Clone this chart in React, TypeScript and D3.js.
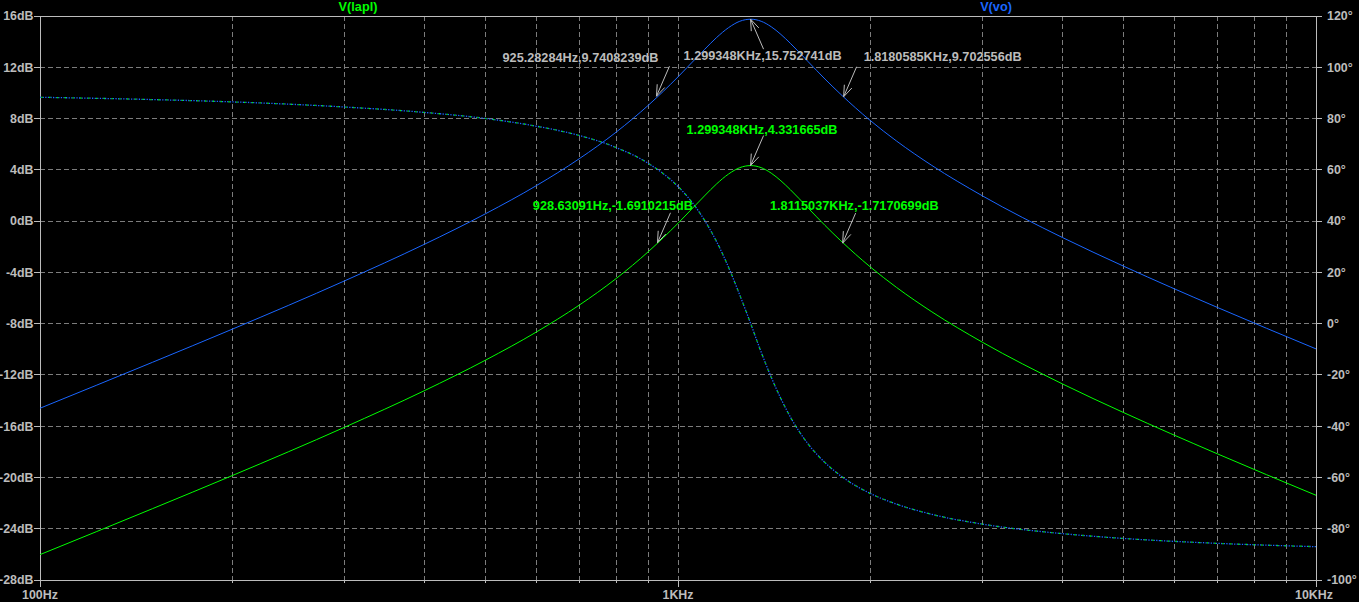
import React from "react";
import * as d3 from "d3";

// ---- data ----
const freqs = [100, 150, 200, 300, 400, 500, 600, 700, 800, 900, 1000, 1050, 1100, 1150, 1200, 1250, 1300, 1350, 1400, 1450, 1500, 1600, 1700, 1800, 2000, 2200, 2500, 3000, 4000, 5000, 7000, 10000];
const laplDb = [-26.02, -22.44, -19.86, -16.09, -13.24, -10.83, -8.65, -6.56, -4.48, -2.35, -0.17, 0.92, 1.96, 2.91, 3.67, 4.17, 4.33, 4.17, 3.74, 3.14, 2.45, 1.01, -0.34, -1.54, -3.56, -5.17, -7.08, -9.45, -12.69, -14.95, -18.15, -21.39];
const voDb = [-14.6, -11.02, -8.44, -4.67, -1.82, 0.59, 2.77, 4.86, 6.94, 9.07, 11.25, 12.34, 13.38, 14.33, 15.09, 15.59, 15.75, 15.59, 15.16, 14.56, 13.87, 12.43, 11.08, 9.88, 7.86, 6.25, 4.34, 1.97, -1.27, -3.53, -6.73, -9.97];
const phaseDeg = [88.3, 87.4, 86.5, 84.5, 82.4, 80.0, 77.0, 73.4, 68.7, 62.4, 53.5, 47.6, 40.4, 31.9, 22.0, 11.1, 0, -11.1, -20.9, -29.3, -36.4, -47.0, -54.2, -59.4, -66.2, -70.4, -74.4, -78.2, -81.9, -83.8, -85.7, -87.0];

const dbTicks = [16, 12, 8, 4, 0, -4, -8, -12, -16, -20, -24, -28];
const degTicks = [120, 100, 80, 60, 40, 20, 0, -20, -40, -60, -80, -100];
const freqMajor = [100, 1000, 10000];
const freqMajorLabels = ["100Hz", "1KHz", "10KHz"];
const freqMinor = [200, 300, 400, 500, 600, 700, 800, 900, 2000, 3000, 4000, 5000, 6000, 7000, 8000, 9000];

const traceNames = ["V(lapl)", "V(vo)"];

// cursor annotations: frequency, value, label, which trace
const annFreq = [925.28284, 1299.348, 1818.0585, 1299.348, 928.63091, 1811.5037];
const annValue = [9.7408239, 15.752741, 9.702556, 4.331665, -1.6910215, -1.7170699];
const annLabel = [
  "925.28284Hz,9.7408239dB",
  "1.299348KHz,15.752741dB",
  "1.8180585KHz,9.702556dB",
  "1.299348KHz,4.331665dB",
  "928.63091Hz,-1.6910215dB",
  "1.8115037KHz,-1.7170699dB",
];
const annTrace = ["vo", "vo", "vo", "lapl", "lapl", "lapl"];

// ---- layout ----
const W = 1359;
const H = 602;
const L = 40, R = 1316, T = 16, B = 580;
const GREEN = "#00ff00";
const BLUE = "#1a66ff";
const GRAY = "#bcbcbc";
const GRID = "#7c7c7c";
const FONT = "'Liberation Sans', Arial, sans-serif";

// per-annotation layout (text anchor point relative to the arrow tip, anchor, tail direction)
const annLayout = [
  { dx: 2, dy: -39, anchor: "end", up: false },
  { dx: -67, dy: 36.5, anchor: "start", up: true },
  { dx: 20, dy: -40, anchor: "start", up: false },
  { dx: -64, dy: -36.3, anchor: "start", up: false },
  { dx: 35.5, dy: -37, anchor: "end", up: false },
  { dx: -72.6, dy: -37.4, anchor: "start", up: false },
];

export default function App() {
  const x = d3.scaleLog().domain([100, 10000]).range([L, R]);
  const yDb = d3.scaleLinear().domain([-28, 16]).range([B, T]);
  const yPh = d3.scaleLinear().domain([-100, 120]).range([B, T]);

  const lineDb = d3
    .line<number>()
    .x((_, i) => x(freqs[i]))
    .y((d) => yDb(d))
    .curve(d3.curveMonotoneX);
  const linePh = d3
    .line<number>()
    .x((_, i) => x(freqs[i]))
    .y((d) => yPh(d))
    .curve(d3.curveMonotoneX);

  const textStyle = { fontFamily: FONT, fontWeight: 700, fontSize: 12.7 } as const;
  const tickStyle = { fontFamily: FONT, fontWeight: 700, fontSize: 12.4 } as const;

  return (
    <svg
      width={W}
      height={H}
      style={{ position: "fixed", left: 0, top: 0, background: "#000", display: "block" }}
    >
      <rect x={0} y={0} width={W} height={H} fill="#000" />
      {/* grid */}
      {dbTicks.slice(1, -1).map((t) => (
        <line key={"hg" + t} x1={L} x2={R} y1={yDb(t)} y2={yDb(t)} stroke={GRID} strokeDasharray="5 3" shapeRendering="crispEdges" />
      ))}
      {freqMinor.concat([1000]).map((f) => (
        <line key={"vg" + f} x1={x(f)} x2={x(f)} y1={T} y2={B} stroke={GRID} strokeDasharray="5 3" shapeRendering="crispEdges" />
      ))}
      {/* frame */}
      <rect x={L} y={T} width={R - L} height={B - T} fill="none" stroke={GRAY} shapeRendering="crispEdges" />
      {/* left ticks + labels */}
      {dbTicks.map((t) => (
        <g key={"ly" + t}>
          <line x1={L - 6} x2={L} y1={yDb(t)} y2={yDb(t)} stroke={GRAY} shapeRendering="crispEdges" />
          <text x={L - 6.5} y={yDb(t)} dy="0.35em" textAnchor="end" fill={GRAY} style={tickStyle}>
            {t + "dB"}
          </text>
        </g>
      ))}
      {/* right ticks + labels */}
      {degTicks.map((t) => (
        <g key={"ry" + t}>
          <line x1={R} x2={R + 6} y1={yPh(t)} y2={yPh(t)} stroke={GRAY} shapeRendering="crispEdges" />
          <text x={R + 11} y={yPh(t)} dy="0.35em" textAnchor="start" fill={GRAY} style={tickStyle}>
            {t + "°"}
          </text>
        </g>
      ))}
      {/* bottom ticks */}
      {freqMinor.map((f) => (
        <line key={"bt" + f} x1={x(f)} x2={x(f)} y1={B} y2={B + 3} stroke={GRAY} shapeRendering="crispEdges" />
      ))}
      {freqMajor.map((f, i) => (
        <g key={"bm" + f}>
          <line x1={x(f)} x2={x(f)} y1={B} y2={B + 7} stroke={GRAY} shapeRendering="crispEdges" />
          <text x={i === 2 ? x(f) - 2 : x(f)} y={595} dy="0.35em" textAnchor="middle" fill={GRAY} style={tickStyle}>
            {freqMajorLabels[i]}
          </text>
        </g>
      ))}
      {/* trace names */}
      <text x={358} y={7} dy="0.35em" textAnchor="middle" fill={GREEN} style={textStyle}>
        {traceNames[0]}
      </text>
      <text x={996} y={7} dy="0.35em" textAnchor="middle" fill={BLUE} style={textStyle}>
        {traceNames[1]}
      </text>

      {/* phase (dotted) */}
      <path d={linePh(phaseDeg) || ""} fill="none" stroke={BLUE} strokeWidth={1.3} strokeDasharray="1.3 1.3" />
      <path d={linePh(phaseDeg) || ""} fill="none" stroke={GREEN} strokeWidth={1.3} strokeDasharray="1.3 6.5" strokeDashoffset={-1.3} />

      {/* magnitudes */}
      <path d={lineDb(voDb) || ""} fill="none" stroke={BLUE} strokeWidth={1} />
      <path d={lineDb(laplDb) || ""} fill="none" stroke={GREEN} strokeWidth={1} />

      {/* annotations */}
      {annFreq.map((f, i) => {
        const tx = x(f);
        const ty = yDb(annValue[i]);
        const lay = annLayout[i];
        const tailX = tx + 13;
        const tailY = ty + (lay.up ? 30 : -30);
        const ang = Math.atan2(tailY - ty, tailX - tx);
        const len = 12;
        const spread = (20 * Math.PI) / 180;
        const a1 = [tx + len * Math.cos(ang + spread), ty + len * Math.sin(ang + spread)];
        const a2 = [tx + len * Math.cos(ang - spread), ty + len * Math.sin(ang - spread)];
        return (
          <g key={"ann" + i}>
            <line x1={tailX} y1={tailY} x2={tx} y2={ty} stroke={GRAY} strokeWidth={1} />
            <line x1={tx} y1={ty} x2={a1[0]} y2={a1[1]} stroke={GRAY} strokeWidth={1} />
            <line x1={tx} y1={ty} x2={a2[0]} y2={a2[1]} stroke={GRAY} strokeWidth={1} />
            <text
              x={tx + lay.dx}
              y={ty + lay.dy}
              dy="0.35em"
              textAnchor={lay.anchor}
              fill={annTrace[i] === "vo" ? GRAY : GREEN}
              style={textStyle}
            >
              {annLabel[i]}
            </text>
          </g>
        );
      })}
    </svg>
  );
}
